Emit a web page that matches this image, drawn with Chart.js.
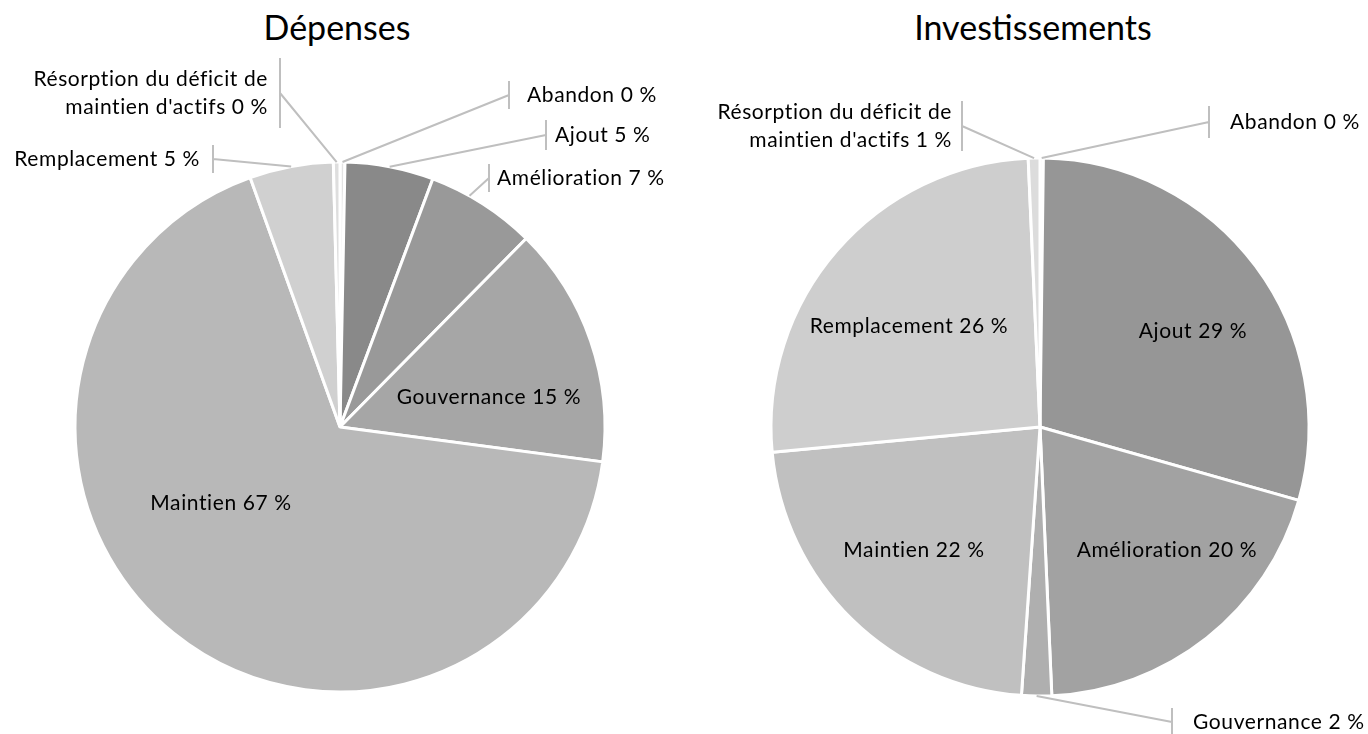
<!DOCTYPE html>
<html>
<head>
<meta charset="utf-8">
<script src="https://cdn.jsdelivr.net/npm/chart.js@4/dist/chart.umd.min.js"></script>
<style>
  body { margin: 0; background: #fff; width: 1368px; height: 734px; overflow: hidden; position: relative; font-family: Lato, "Noto Sans", sans-serif; }
  .box { position: absolute; top: 0; width: 684px; height: 734px; }
  .title { position: absolute; top: 6px; font-size: 34px; color: #000; transform: translateX(-50%); white-space: nowrap; }
</style>
</head>
<body>
<div class="title" style="left:337px">Dépenses</div>
<div class="title" style="left:1033px">Investissements</div>
<div class="box" style="left:0"><canvas id="depChart" width="684" height="734"></canvas></div>
<div class="box" style="left:684px"><canvas id="invChart" width="684" height="734"></canvas></div>
<script>
const categories = ["Abandon", "Ajout", "Amélioration", "Gouvernance", "Maintien", "Remplacement", "Résorption du déficit de\nmaintien d'actifs"];
const depensesValues = [0.3, 5.4, 6.7, 14.7, 67.4, 5.1, 0.4];
const investValues = [0.2, 29.2, 19.9, 1.8, 22.4, 25.8, 0.7];

const depColors = ["#e4e4e4", "#898989", "#999999", "#a6a6a6", "#b8b8b8", "#d0d0d0", "#dedede"];
const invColors = ["#ebebeb", "#969696", "#a2a2a2", "#afafaf", "#c0c0c0", "#cecece", "#dcdcdc"];

// label placement, relative to pie centre (in = text centre, out = leader tick)
const depLayout = [
  { type: "out", tx: 169, ty: -332, h: 14, textX: 187, side: "right" },
  { type: "out", tx: 206, ty: -292, h: 15, textX: 215, side: "right" },
  { type: "out", tx: 149, ty: -249, h: 14, textX: 157, side: "right", a: -1.06 },
  { type: "in", x: 149, y: -30 },
  { type: "in", x: -119, y: 76 },
  { type: "out", tx: -127, ty: -268, h: 14, textX: -140, side: "left" },
  { type: "out", tx: -60, ty: -334, h: 35, textX: -72, side: "left" }
];
const invLayout = [
  { type: "out", tx: 169, ty: -305, h: 16, textX: 190, side: "right" },
  { type: "in", x: 153, y: -96 },
  { type: "in", x: 127, y: 123 },
  { type: "out", tx: 132, ty: 295, h: 14, textX: 153, side: "right" },
  { type: "in", x: -126, y: 123 },
  { type: "in", x: -131, y: -101 },
  { type: "out", tx: -78, ty: -301, h: 25, textX: -88, side: "left" }
];

const pieLabels = {
  id: "pieLabels",
  afterDatasetsDraw(chart, args, opts) {
    const ctx = chart.ctx;
    const meta = chart.getDatasetMeta(0);
    const values = chart.data.datasets[0].data;
    const total = values.reduce((a, b) => a + b, 0);
    ctx.save();
    ctx.font = "21px Lato";
    ctx.letterSpacing = "0.6px";
    ctx.fillStyle = "#000";
    ctx.textBaseline = "middle";
    meta.data.forEach((arc, i) => {
      const lay = opts.layout[i];
      const pct = Math.round(values[i] / total * 100) + " %";
      const lines = (chart.data.labels[i] + " " + pct).split("\n");
      const cx = arc.x, cy = arc.y;
      if (lay.type === "in") {
        ctx.textAlign = "center";
        ctx.fillText(lines[0], cx + lay.x, cy + lay.y);
        return;
      }
      // leader starts on the slice rim (optionally nudged along it)
      const a = lay.a !== undefined ? lay.a : (arc.startAngle + arc.endAngle) / 2;
      const px = cx + Math.cos(a) * arc.outerRadius;
      const py = cy + Math.sin(a) * arc.outerRadius;
      const tx = cx + lay.tx, ty = cy + lay.ty;
      ctx.strokeStyle = "#bfbfbf";
      ctx.lineWidth = 2;
      ctx.beginPath();
      ctx.moveTo(px, py);
      ctx.lineTo(tx, ty);
      ctx.moveTo(tx, ty - lay.h);
      ctx.lineTo(tx, ty + lay.h);
      ctx.stroke();
      ctx.textAlign = lay.side === "left" ? "right" : "left";
      const lh = 28;
      const y0 = ty - (lines.length - 1) * lh / 2;
      lines.forEach((t, k) => ctx.fillText(t, cx + lay.textX, y0 + k * lh));
    });
    ctx.restore();
  }
};

const makePie = (id, values, colors, radius, padding, layout) => {
  return new Chart(document.getElementById(id), {
    type: "pie",
    data: {
      labels: categories,
      datasets: [{
        data: values,
        backgroundColor: colors,
        borderColor: "#ffffff",
        borderWidth: 3,
        hoverOffset: 0,
        radius: radius
      }]
    },
    options: {
      responsive: false,
      animation: false,
      devicePixelRatio: 1,
      layout: { padding: padding },
      plugins: {
        legend: { display: false },
        tooltip: { enabled: false },
        pieLabels: { layout: layout }
      }
    },
    plugins: [pieLabels]
  });
};

makePie("depChart", depensesValues, depColors, 265, { left: 0, right: 4, top: 120, bottom: 0 }, depLayout);
makePie("invChart", investValues, invColors, 269, { left: 28, right: 0, top: 120, bottom: 0 }, invLayout);
</script>
</body>
</html>
